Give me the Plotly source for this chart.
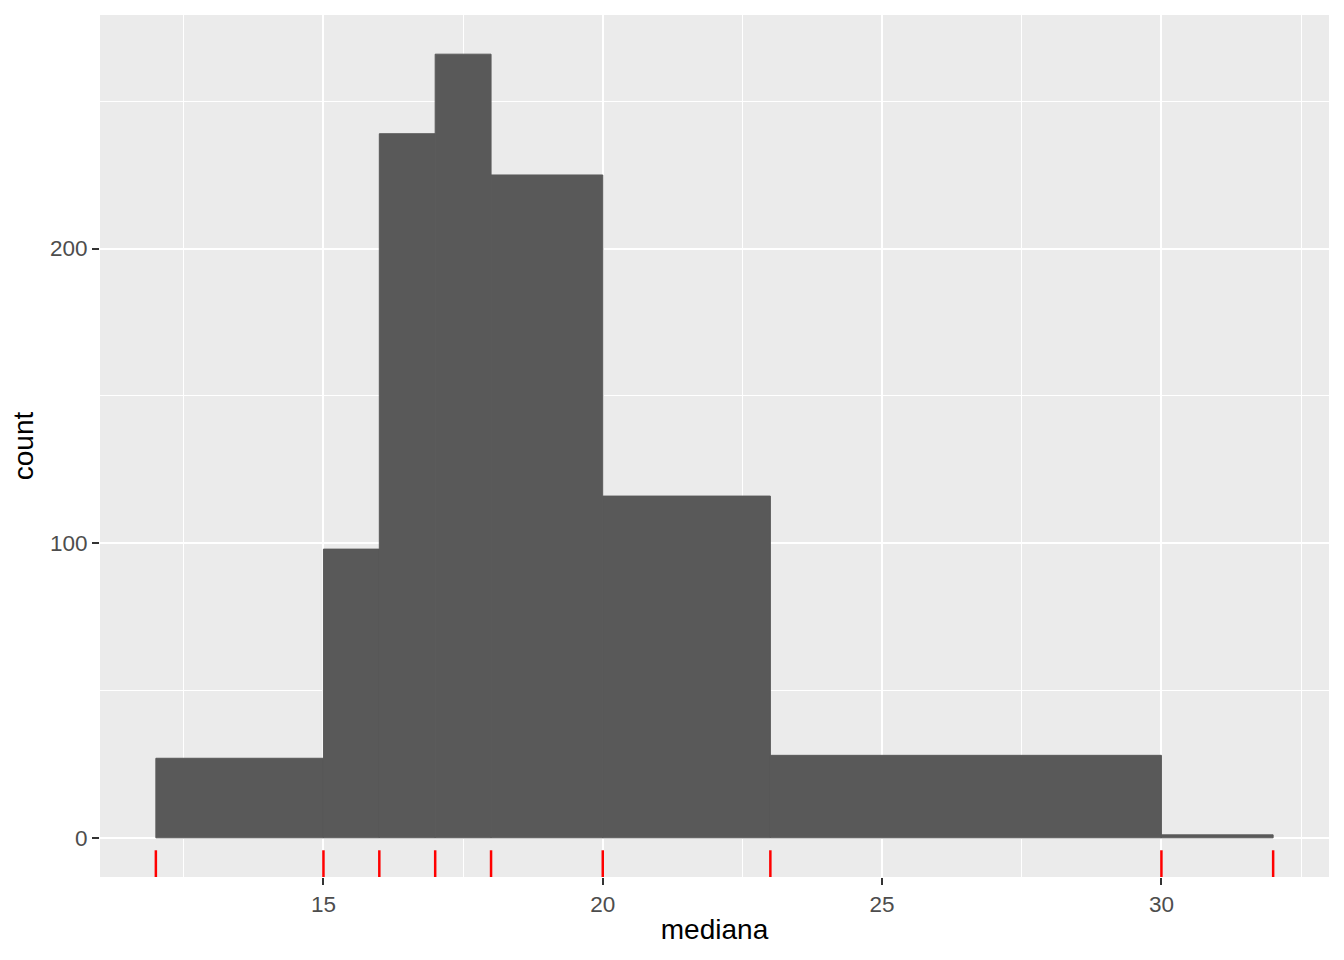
import plotly.graph_objects as go

# Histogram bins (variable width) and counts
bin_edges = [12, 15, 16, 17, 18, 20, 23, 30, 32]
counts = [27, 98, 239, 266, 225, 116, 28, 1]
rug_values = [12, 15, 16, 17, 18, 20, 23, 30, 32]

x_ticks = [15, 20, 25, 30]
y_ticks = [0, 100, 200]

mids = [(a + b) / 2 for a, b in zip(bin_edges[:-1], bin_edges[1:])]
widths = [b - a for a, b in zip(bin_edges[:-1], bin_edges[1:])]

fig = go.Figure()
fig.add_trace(go.Bar(
    x=mids, y=counts, width=widths,
    marker=dict(color="#595959", line=dict(width=1, color="#595959")),
    hoverinfo="x+y", showlegend=False,
))

rx, ry = [], []
for v in rug_values:
    rx += [v, v, None]
    ry += [0, 0.031, None]
fig.add_trace(go.Scatter(
    x=rx, y=ry, mode="lines", yaxis="y2",
    line=dict(color="#FF0000", width=2.5), showlegend=False, hoverinfo="skip",
))

font_family = "Liberation Sans, Arial, sans-serif"
xmin, xmax = bin_edges[0], bin_edges[-1]
xpad = (xmax - xmin) * 0.05
ymax = max(counts)
ypad = ymax * 0.05

fig.update_layout(
    width=1344, height=960,
    margin=dict(l=92, r=23, t=7, b=91, autoexpand=False),
    paper_bgcolor="white", plot_bgcolor="#EBEBEB",
    font=dict(family=font_family, color="#4D4D4D"),
    xaxis=dict(
        range=[xmin - xpad, xmax + xpad],
        tickmode="array", tickvals=x_ticks,
        ticks="outside", ticklen=7, tickwidth=2, tickcolor="#333333",
        tickfont=dict(size=22.5, color="#4D4D4D"),
        showgrid=True, gridcolor="white", gridwidth=2.2,
        zeroline=False, showline=False,
        minor=dict(tickmode="array", tickvals=[12.5, 17.5, 22.5, 27.5, 32.5],
                   showgrid=True, gridcolor="white", gridwidth=1.1, ticks=""),
        title=dict(text="mediana", font=dict(size=28, color="black"), standoff=3),
    ),
    yaxis=dict(
        range=[-ypad, ymax + ypad],
        tickmode="array", tickvals=y_ticks,
        ticks="outside", ticklen=7, tickwidth=2, tickcolor="#333333",
        tickfont=dict(size=22.5, color="#4D4D4D"),
        showgrid=True, gridcolor="white", gridwidth=2.2,
        zeroline=False, showline=False,
        minor=dict(tickmode="array", tickvals=[50, 150, 250],
                   showgrid=True, gridcolor="white", gridwidth=1.1, ticks=""),
        title=dict(text="count", font=dict(size=28, color="black"), standoff=12),
    ),
    yaxis2=dict(range=[0, 1], overlaying="y", visible=False, fixedrange=True),
)

fig.write_html("out.html")
